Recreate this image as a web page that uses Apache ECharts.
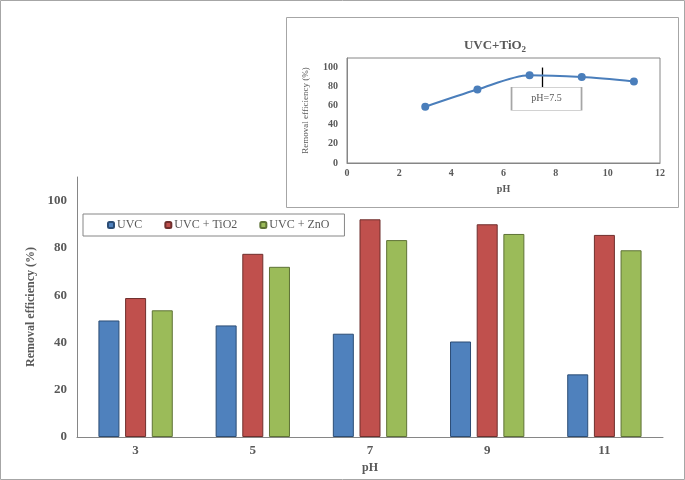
<!DOCTYPE html>
<html><head><meta charset="utf-8">
<script src="https://cdn.jsdelivr.net/npm/echarts@6/dist/echarts.min.js"></script>
<style>html,body{margin:0;padding:0;background:#fff}#c{width:685px;height:480px}</style>
</head><body><div id="c"></div>
<script>
var categories = ['3', '5', '7', '9', '11'];
var seriesNames = ['UVC', 'UVC + TiO2', 'UVC + ZnO'];
var uvc = [49.3, 47.2, 43.7, 40.4, 26.5];
var uvcTiO2 = [58.8, 77.5, 92.1, 90.0, 85.5];
var uvcZnO = [53.6, 72.0, 83.3, 85.9, 79.0];
var insetPH = [3, 5, 7, 9, 11];
var insetValues = [59, 77, 92, 90, 85.5];
var yTicks = [0, 20, 40, 60, 80, 100];
var insetXTicks = [0, 2, 4, 6, 8, 10, 12];
var optimumPH = 7.5;

var serif = '"Liberation Serif","Times New Roman",serif';
var txt = '#595959';
var axisGray = '#868686';
var chart = echarts.init(document.getElementById('c'), null, {renderer: 'canvas'});

function barSeries(name, data, color, border) {
  return {
    name: name, type: 'bar', data: data, xAxisIndex: 0, yAxisIndex: 0,
    barWidth: 21, barGap: '27%',
    itemStyle: {color: color, borderColor: border, borderWidth: 1}
  };
}

var option = {
  backgroundColor: '#fff',
  animation: false,
  title: {
    text: 'UVC+TiO{s|2}', left: 490, top: 32, textAlign: 'center',
    textStyle: {fontFamily: serif, fontSize: 13, fontWeight: 'bold', color: txt,
      rich: {s: {fontFamily: serif, fontSize: 9, fontWeight: 'bold', color: txt, padding: [8, 0, 0, 0]}}}
  },
  graphic: [
    {type: 'rect', silent: true, z: -10, shape: {x: 0.5, y: 0.5, width: 684, height: 479},
      style: {fill: '#fff', stroke: '#a6a6a6', lineWidth: 1}},
    {type: 'rect', silent: true, z: -5, shape: {x: 286.5, y: 17.5, width: 392, height: 190},
      style: {fill: '#fff', stroke: '#a6a6a6', lineWidth: 1}}
  ],
  legend: {
    data: seriesNames, left: 83, top: 214, orient: 'horizontal',
    padding: [5, 15, 5, 24], itemGap: 22, itemWidth: 6, itemHeight: 6,
    borderColor: axisGray, borderWidth: 1, backgroundColor: '#fff',
    textStyle: {fontFamily: serif, fontSize: 12, color: txt, padding: [0, 0, 0, -2]}
  },
  grid: [
    {left: 77, right: 22, top: 177, bottom: 43, containLabel: false},
    {left: 347, right: 25, top: 58, bottom: 317, show: true, borderColor: axisGray, borderWidth: 1, backgroundColor: 'transparent'}
  ],
  xAxis: [
    {type: 'category', gridIndex: 0, data: categories,
      name: 'pH', nameLocation: 'middle', nameGap: 22,
      nameTextStyle: {fontFamily: serif, fontSize: 12, fontWeight: 'bold', color: txt},
      axisLine: {lineStyle: {color: axisGray}}, axisTick: {show: false},
      axisLabel: {fontFamily: serif, fontSize: 13, fontWeight: 'bold', color: txt, margin: 7}},
    {type: 'value', gridIndex: 1, min: 0, max: 12, interval: 2, z: 5,
      name: 'pH', nameLocation: 'middle', nameGap: 21,
      nameTextStyle: {fontFamily: serif, fontSize: 10, fontWeight: 'bold', color: txt},
      axisLine: {show: true, onZero: false, lineStyle: {color: axisGray}}, axisTick: {show: false},
      splitLine: {show: false},
      axisLabel: {fontFamily: serif, fontSize: 10, fontWeight: 'bold', color: txt, margin: 5,
        formatter: function (v) { return insetXTicks.indexOf(v) >= 0 ? String(v) : ''; }}}
  ],
  yAxis: [
    {type: 'value', gridIndex: 0, min: 0, max: 110, interval: 20,
      name: 'Removal efficiency (%)', nameLocation: 'middle', nameGap: 34, nameRotate: 90,
      nameTextStyle: {fontFamily: serif, fontSize: 12, fontWeight: 'bold', color: txt},
      axisLine: {show: true, lineStyle: {color: axisGray}}, axisTick: {show: false},
      splitLine: {show: false},
      axisLabel: {fontFamily: serif, fontSize: 13, fontWeight: 'bold', color: txt, margin: 10,
        formatter: function (v) { return yTicks.indexOf(v) >= 0 ? String(v) : ''; }}},
    {type: 'value', gridIndex: 1, min: 0, max: 110, interval: 20, z: 5,
      name: 'Removal efficiency (%)', nameLocation: 'middle', nameGap: 37, nameRotate: 90,
      nameTextStyle: {fontFamily: serif, fontSize: 9, color: txt},
      axisLine: {show: true, lineStyle: {color: axisGray}}, axisTick: {show: false},
      splitLine: {show: false},
      axisLabel: {fontFamily: serif, fontSize: 10, fontWeight: 'bold', color: txt, margin: 9,
        formatter: function (v) { return yTicks.indexOf(v) >= 0 ? String(v) : ''; }}}
  ],
  series: [
    barSeries(seriesNames[0], uvc, '#4f81bd', '#2c4d75'),
    barSeries(seriesNames[1], uvcTiO2, '#c0504d', '#6f2f2d'),
    barSeries(seriesNames[2], uvcZnO, '#9bbb59', '#5e7236'),
    {type: 'line', xAxisIndex: 1, yAxisIndex: 1, z: 6,
      data: insetPH.map(function (p, i) { return [p, insetValues[i]]; }),
      smooth: 0.3, symbol: 'circle', symbolSize: 8,
      lineStyle: {color: '#4a7ebb', width: 2}, itemStyle: {color: '#4a7ebb'},
      markLine: {silent: true, symbol: 'none', label: {show: false},
        lineStyle: {color: '#000', width: 1.3, type: 'solid'},
        data: [[{coord: [optimumPH, 100]}, {coord: [optimumPH, 79.5]}]]},
      markPoint: {silent: true, symbol: 'rect', symbolSize: [70, 23],
        itemStyle: {color: '#fff', borderColor: '#a6a6a6', borderWidth: 1},
        label: {show: true, formatter: 'pH=' + optimumPH, fontFamily: serif, fontSize: 10, color: txt},
        data: [{coord: [7.65, 67.3]}]}}
  ]
};
chart.setOption(option);
</script></body></html>
